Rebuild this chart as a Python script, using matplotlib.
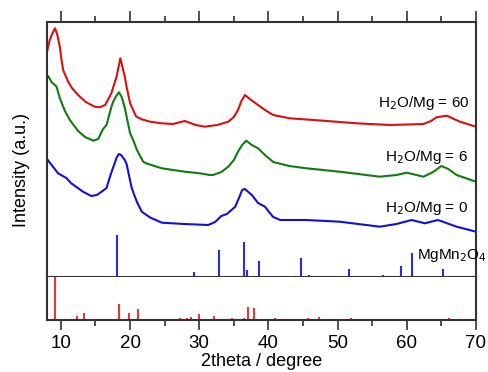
import matplotlib
matplotlib.use("Agg")
import matplotlib.pyplot as plt
import numpy as np

plt.rcParams['font.family'] = ['Liberation Sans', 'DejaVu Sans']

# 2theta (degree) and intensity (arbitrary units, offset traces)
red_x = [8.0, 8.4, 8.8, 9.16, 9.5, 9.86, 10.1, 10.33, 11.06, 11.6, 12.5, 13.6, 14.9, 15.6, 16.4, 17.3, 18.05,
         18.6, 19.25, 19.5, 20.0, 20.45, 20.9, 21.7, 22.9, 24.6, 26.2, 27.9, 29.5, 30.8, 32.6, 34.2, 35.0,
         35.6, 36.1, 36.6, 37.5, 38.5, 39.5, 40.7, 43.1, 47.9, 52.7, 57.6, 62.4, 63.5, 64.3, 65.8, 66.8,
         67.7, 70.0]
red_y = [225.3, 237, 244, 248.7, 242, 230, 217, 207, 195.3, 189, 182, 175, 170.3, 169.7, 172, 183.7, 200.3,
         218.7, 200, 190.3, 174, 167, 160.3, 157.7, 155.3, 153.7, 153, 156, 152, 150.3, 152, 155.3, 160,
         167, 176, 182, 177, 172, 167, 162, 158.7, 156.3, 153.7, 152, 153, 156, 159.7, 161.3, 158,
         155.3, 150.3]
green_x = [8.0, 8.17, 8.65, 9.38, 9.86, 10.6, 11.3, 12.5, 13.5, 14.7, 15.4, 16.1, 16.6, 17.3, 17.55, 18.0,
           18.4, 18.8, 19.25, 20.0, 20.45, 21.0, 21.9, 22.4, 24.6, 27.9, 30.1, 31.5, 32.0, 33.2, 34.2, 35.0,
           35.6, 36.2, 36.8, 37.6, 38.5, 39.5, 40.7, 43.0, 45.5, 50.3, 56.1, 58.5, 60.0, 62.4, 63.8, 65.0,
           66.0, 67.2, 70.0]
green_y = [200.3, 201, 195, 190.3, 178.7, 166, 157, 146, 140, 136.3, 138, 148, 152, 170, 175, 181,
           184.7, 180, 169, 144, 137, 127, 115.3, 113.5, 108.7, 105.3, 103.7, 102, 102, 105, 110.3, 117,
           125.3, 132, 136.3, 132, 128.7, 122, 115, 111, 108.7, 105.3, 100.3, 102, 104.3, 100.3, 105, 111,
           108, 102, 95.3]
blue_x = [8.0, 9.6, 10.8, 11.5, 13.2, 14.4, 15.2, 15.9, 16.6, 17.1, 17.6, 18.1, 18.4, 18.7, 19.25, 19.5,
          20.2, 20.5, 21.0, 21.7, 22.9, 24.6, 27.9, 31.3, 32.3, 33.2, 34.0, 35.2, 35.8, 36.2, 36.6, 37.6,
          38.5, 39.5, 40.2, 40.7, 41.7, 45.5, 50.3, 56.1, 58.5, 60.7, 62.6, 64.5, 67.2, 70.0]
blue_y = [118, 103.7, 99, 93.7, 85.3, 81, 82, 85.3, 89, 100.3, 110.3, 120, 123, 122, 117, 113,
          90.3, 84, 75, 65.3, 59.5, 54.3, 53, 52, 55, 61, 63, 70.3, 80, 87, 88, 82,
          74, 70.3, 64, 60, 57, 57, 55.3, 50.3, 53, 57, 53.7, 57, 50.3, 45.3]

# reference patterns: position (2theta) and relative intensity (%)
mgmn_pos = [18.15, 29.2, 31.2, 32.9, 36.4, 36.9, 38.6, 44.7, 45.9, 51.6, 56.6, 59.1, 60.7, 65.2]
mgmn_int = [100, 11, 2, 64, 83, 17, 38, 45, 4, 19, 4, 26, 57, 20]
oms_pos = [9.1, 12.4, 13.4, 18.4, 19.9, 21.2, 24.9, 27.2, 28.2, 28.8, 30.0, 32.2, 34.8, 36.4, 37.1, 37.95,
           40.9, 43.1, 45.75, 47.3, 48.9, 52.0, 53.2, 55.6, 57.3, 59.3, 60.9, 62.9, 64.3, 66.1, 67.0]
oms_int = [100, 9, 16, 37, 17, 26, 2, 5, 5, 7, 14, 9, 5, 5, 30, 29,
           5, 2, 5, 7, 2, 5, 2, 2, 2, 2, 2, 2, 2, 5, 2]

labels = ['H$_2$O/Mg = 60', 'H$_2$O/Mg = 6', 'H$_2$O/Mg = 0']
xticks = [10, 20, 30, 40, 50, 60, 70]

W, H = 488, 372
fig = plt.figure(figsize=(W / 100, H / 100), dpi=100)
left, right = 47 / W, 476 / W
ax = fig.add_axes([left, 1 - 277 / H, right - left, (277 - 22) / H])
ax2 = fig.add_axes([left, 1 - 320 / H, right - left, (320 - 277) / H], sharex=ax)

red_c, green_c, blue_c = '#d81010', '#137a13', '#1010d8'
ax.plot(red_x, red_y, color=red_c, lw=1.5)
ax.plot(green_x, green_y, color=green_c, lw=1.5)
ax.plot(blue_x, blue_y, color=blue_c, lw=1.5)
scale = 42 / 100
ax.vlines(mgmn_pos, 0, np.array(mgmn_int) * scale, color='#2a2ae0', lw=1.5)
ax2.vlines(oms_pos, 0, oms_int, color='#e03a3a', lw=1.5)

ax.set_xlim(8, 70)
ax.set_ylim(0, 255)
ax2.set_ylim(0, 100)

spine_c = '#333333'
for a in (ax, ax2):
    for s in a.spines.values():
        s.set_linewidth(1.5)
        s.set_color(spine_c)
    a.set_yticks([])
ax2.spines['top'].set_visible(False)

ax.tick_params(axis='x', which='both', bottom=False, top=True, labelbottom=False, labeltop=False,
               direction='out', color=spine_c, width=1.2)
ax.tick_params(axis='x', which='major', length=8)
ax.tick_params(axis='x', which='minor', length=4)
ax2.set_xticks(xticks)
ax2.set_xticks([15, 25, 35, 45, 55, 65], minor=True)
ax2.tick_params(axis='x', which='both', bottom=True, top=False, direction='out', color=spine_c, width=1.2,
                labelsize=13.5, pad=4)
ax2.tick_params(axis='x', which='major', length=7)
ax2.tick_params(axis='x', which='minor', length=4)

tfs = 11
ax.text(469.5 / W, 1 - 103 / H, labels[0], transform=fig.transFigure, ha='right', va='center', fontsize=tfs)
ax.text(468 / W, 1 - 157 / H, labels[1], transform=fig.transFigure, ha='right', va='center', fontsize=tfs)
ax.text(468 / W, 1 - 208 / H, labels[2], transform=fig.transFigure, ha='right', va='center', fontsize=tfs)
ax.text(487 / W, 1 - 256 / H, 'MgMn$_2$O$_4$', transform=fig.transFigure, ha='right', va='center', fontsize=tfs)
ax.text(469 / W, 1 - 305 / H, 'OMS-1', transform=fig.transFigure, ha='right', va='center', fontsize=tfs)

fig.text(21.5 / W, 1 - 170 / H, 'Intensity (a.u.)', rotation=90, ha='center', va='center', fontsize=13)
fig.text(261.5 / W, 1 - 362 / H, '2theta / degree', ha='center', va='center', fontsize=13)

fig.savefig('out.png', dpi=100)
